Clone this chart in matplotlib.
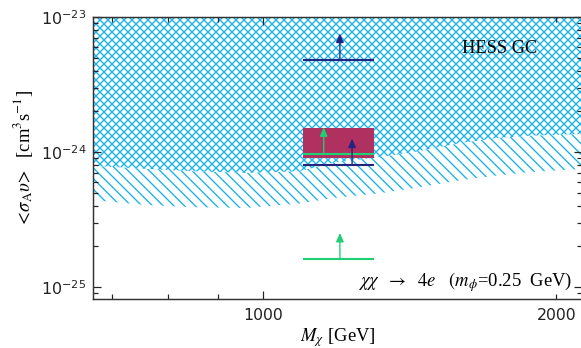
import matplotlib
matplotlib.use("Agg")
import matplotlib.pyplot as plt
from matplotlib.ticker import FixedLocator, FixedFormatter, NullFormatter

W, H, DPI = 581, 348, 192

# HESS Galactic Centre exclusion: two boundaries on a common mass grid (GeV)
mass = [670, 760, 850, 960, 1090, 1180, 1320, 1430, 1600, 1740, 1880, 2125]
hess_lower = [4.4e-25, 4.05e-25, 3.9e-25, 3.85e-25, 4.15e-25, 4.56e-25,
              4.95e-25, 5.4e-25, 6.2e-25, 6.7e-25, 7.1e-25, 7.5e-25]
hess_upper = [7.9e-25, 7.5e-25, 7.2e-25, 7.0e-25, 7.2e-25, 8.3e-25,
              9.2e-25, 1.0e-24, 1.17e-24, 1.27e-24, 1.32e-24, 1.36e-24]

# preferred region and lower limits for chi chi -> 4e, m_phi = 0.25 GeV
band_mass = [1100, 1300]
band_sigma = [9.0e-25, 1.5e-24]
limit_values = [4.8e-24, 8.0e-25, 9.7e-25, 1.6e-25]
limit_colors = ["#24237e", "#24237e", "#1ecf73", "#1ecf73"]
arrow_mass = [1200, 1235, 1155, 1200]

x_ticks = [1000, 2000]
x_minor = [700, 800, 900]
x_ticklabels = ["1000", "2000"]
y_ticks = [1e-25, 1e-24, 1e-23]
y_minor = [m * 10.0 ** e for e in (-26, -25, -24) for m in range(2, 10)
           if 8.15e-26 <= m * 10.0 ** e <= 1e-23]

HATCH = "#16b2ea"
plt.rcParams["hatch.linewidth"] = 0.5

fig = plt.figure(figsize=(W / DPI, H / DPI), dpi=DPI)
ax = fig.add_axes([93 / W, 1 - 299 / H, (582 - 93) / W, (299 - 17) / H])
ax.set_xscale("log")
ax.set_yscale("log")
ax.set_xlim(670, 2125)
ax.set_ylim(8.15e-26, 1e-23)

# exclusion regions
ax.fill_between(mass, hess_upper, 1e-23, facecolor="none", edgecolor=HATCH,
                linewidth=0, hatch="x" * 8, zorder=1)
ax.fill_between(mass, hess_lower, hess_upper, facecolor="none", edgecolor=HATCH,
                linewidth=0, hatch="\\" * 6, zorder=1)

# preferred band
ax.fill_between(band_mass, band_sigma[0], band_sigma[1], color="#b03060",
                linewidth=0, zorder=3)

# limits: horizontal bars with upward arrows
for val, col, am in zip(limit_values, limit_colors, arrow_mass):
    ax.plot(band_mass, [val, val], color=col, lw=0.8, solid_capstyle="butt",
            zorder=4)
    ax.annotate("", xy=(am, val * 1.57), xytext=(am, val),
                arrowprops=dict(arrowstyle="-|>,head_length=0.45,head_width=0.2",
                                color=col, lw=0.5, mutation_scale=6,
                                shrinkA=0, shrinkB=0),
                zorder=5)

# ticks
ax.xaxis.set_major_locator(FixedLocator(x_ticks))
ax.xaxis.set_major_formatter(FixedFormatter(x_ticklabels))
ax.xaxis.set_minor_locator(FixedLocator(x_minor))
ax.xaxis.set_minor_formatter(NullFormatter())
ax.yaxis.set_major_locator(FixedLocator(y_ticks))
ax.yaxis.set_minor_locator(FixedLocator(y_minor))
ax.yaxis.set_minor_formatter(NullFormatter())
ax.tick_params(which="both", direction="in", top=True, right=True,
               colors="#222222", width=0.45)
ax.tick_params(which="major", length=3.0)
ax.tick_params(which="minor", length=1.9)
ax.tick_params(axis="x", which="major", pad=3.5, labelsize=5.9)
ax.tick_params(axis="y", which="major", pad=2.6, labelsize=6.0)
for t in ax.xaxis.get_major_ticks()[1:]:
    t.tick1line.set_markersize(1.9)
    t.tick2line.set_markersize(1.9)
for lab in ax.get_xticklabels() + ax.get_yticklabels():
    lab.set_family("DejaVu Sans")
    lab.set_color("#222222")

for s in ax.spines.values():
    s.set_linewidth(0.55)
    s.set_color("#333333")

ax.set_xlabel(r"$M_{\chi}$ [GeV]", family="Liberation Serif", fontsize=7.0,
              math_fontfamily="stix", labelpad=1.2)
ax.set_ylabel(r"$<\!\sigma_{\rm A}\upsilon\!>$  [cm$^{3}$s$^{-1}$]",
              family="Liberation Serif", fontsize=7.0,
              math_fontfamily="stix", labelpad=2.0)

ax.text(0.832, 0.89, "HESS GC", transform=ax.transAxes,
        family="Liberation Serif", fontsize=6.9, ha="center", va="center",
        zorder=6)
ax.text(358 / W, 1 - 286 / H,
        r"$\chi\chi\ \ \rightarrow\ \ 4e\ \ \ (m_{\phi}$=0.25  GeV)",
        transform=fig.transFigure, family="Liberation Serif", fontsize=7.0,
        math_fontfamily="stix", ha="left", va="baseline", zorder=6)

fig.savefig("out.png", dpi=DPI)
